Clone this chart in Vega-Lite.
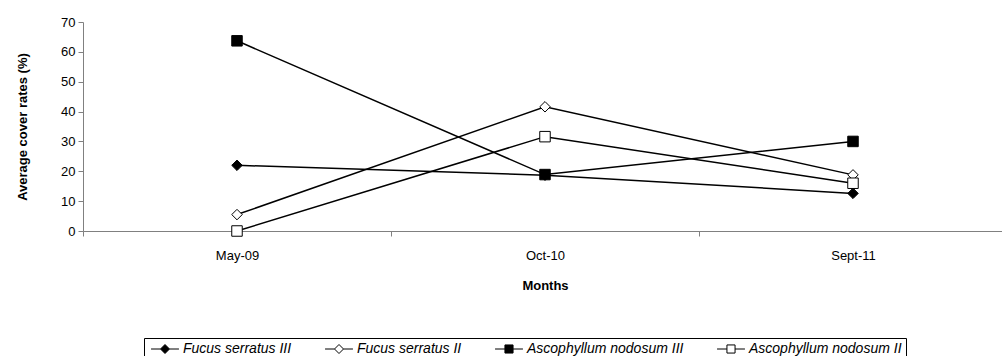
{
  "$schema": "https://vega.github.io/schema/vega-lite/v6.json",
  "autosize": {"type": "none"},
  "padding": {"left": 83, "top": 22, "right": 0, "bottom": 125},
  "width": 924,
  "height": 209,
  "background": "white",
  "config": {
    "view": {"stroke": null},
    "font": "Liberation Sans",
    "axis": {
      "domainColor": "#808080",
      "tickColor": "#808080",
      "labelColor": "black",
      "titleColor": "black",
      "labelFont": "Liberation Sans",
      "titleFont": "Liberation Sans",
      "labelFontSize": 13,
      "titleFontSize": 13,
      "titleFontWeight": "bold",
      "grid": false
    },
    "legend": {
      "orient": "none",
      "legendX": 61,
      "legendY": 316,
      "direction": "horizontal",
      "columns": 4,
      "strokeColor": "black",
      "fillColor": "white",
      "padding": 4,
      "symbolSize": 81,
      "symbolOffset": 10,
      "labelOffset": 11,
      "columnPadding": 30,
      "labelFont": "Liberation Sans",
      "labelFontSize": 14,
      "labelFontStyle": "italic",
      "labelColor": "black",
      "symbolStrokeWidth": 1
    }
  },
  "data": {
    "values": [
      {"series": "Fucus serratus III", "month": "May-09", "cover": 22},
      {"series": "Fucus serratus III", "month": "Oct-10", "cover": 18.7},
      {"series": "Fucus serratus III", "month": "Sept-11", "cover": 12.6},
      {"series": "Fucus serratus II", "month": "May-09", "cover": 5.5},
      {"series": "Fucus serratus II", "month": "Oct-10", "cover": 41.6},
      {"series": "Fucus serratus II", "month": "Sept-11", "cover": 18.8},
      {"series": "Ascophyllum nodosum III", "month": "May-09", "cover": 63.7},
      {"series": "Ascophyllum nodosum III", "month": "Oct-10", "cover": 18.9},
      {"series": "Ascophyllum nodosum III", "month": "Sept-11", "cover": 30},
      {"series": "Ascophyllum nodosum II", "month": "May-09", "cover": 0},
      {"series": "Ascophyllum nodosum II", "month": "Oct-10", "cover": 31.6},
      {"series": "Ascophyllum nodosum II", "month": "Sept-11", "cover": 16}
    ]
  },
  "encoding": {
    "x": {
      "field": "month",
      "type": "nominal",
      "sort": ["May-09", "Oct-10", "Sept-11"],
      "scale": {"paddingInner": 0, "paddingOuter": 0},
      "axis": {
        "title": "Months",
        "labelAngle": 0,
        "tickBand": "extent",
        "tickSize": 5,
        "labelPadding": 13,
        "titlePadding": 17
      }
    },
    "y": {
      "field": "cover",
      "type": "quantitative",
      "scale": {"domain": [0, 70], "nice": false},
      "axis": {
        "title": "Average cover rates (%)",
        "values": [0, 10, 20, 30, 40, 50, 60, 70],
        "tickSize": 5,
        "labelPadding": 3,
        "titlePadding": 31
      }
    }
  },
  "resolve": {"scale": {"shape": "independent", "fill": "independent", "stroke": "independent"}},
  "layer": [
    {
      "mark": {"type": "line", "color": "black", "strokeWidth": 1.5},
      "encoding": {"detail": {"field": "series", "type": "nominal"}}
    },
    {
      "mark": {"type": "point", "filled": true, "stroke": "black", "strokeWidth": 1, "size": 110, "opacity": 1},
      "encoding": {
        "fill": {
          "field": "series",
          "type": "nominal",
          "scale": {
            "domain": ["Fucus serratus III", "Fucus serratus II", "Ascophyllum nodosum III", "Ascophyllum nodosum II"],
            "range": ["black", "white", "black", "white"]
          },
          "legend": null
        },
        "shape": {
          "field": "series",
          "type": "nominal",
          "scale": {
            "domain": ["Fucus serratus III", "Fucus serratus II", "Ascophyllum nodosum III", "Ascophyllum nodosum II"],
            "range": ["diamond", "diamond", "square", "square"]
          },
          "legend": null
        }
      }
    },
    {
      "transform": [{"filter": "false"}],
      "mark": {"type": "point", "filled": true, "strokeWidth": 1, "opacity": 1},
      "encoding": {
        "fill": {
          "field": "series",
          "type": "nominal",
          "scale": {
            "domain": ["Fucus serratus III", "Fucus serratus II", "Ascophyllum nodosum III", "Ascophyllum nodosum II"],
            "range": ["black", "white", "black", "white"]
          },
          "legend": {"title": null}
        },
        "stroke": {
          "field": "series",
          "type": "nominal",
          "scale": {
            "domain": ["Fucus serratus III", "Fucus serratus II", "Ascophyllum nodosum III", "Ascophyllum nodosum II"],
            "range": ["black", "black", "black", "black"]
          },
          "legend": {"title": null}
        },
        "shape": {
          "field": "series",
          "type": "nominal",
          "scale": {
            "domain": ["Fucus serratus III", "Fucus serratus II", "Ascophyllum nodosum III", "Ascophyllum nodosum II"],
            "range": [
              "M-3.1,0H-1M1,0H3.1M-1,0L0,-1L1,0L0,1Z",
              "M-3.1,0H-1M1,0H3.1M-1,0L0,-1L1,0L0,1Z",
              "M-3.1,0H-0.9M0.9,0H3.1M-0.9,-0.9H0.9V0.9H-0.9Z",
              "M-3.1,0H-0.9M0.9,0H3.1M-0.9,-0.9H0.9V0.9H-0.9Z"
            ]
          },
          "legend": {"title": null}
        }
      }
    }
  ]
}
